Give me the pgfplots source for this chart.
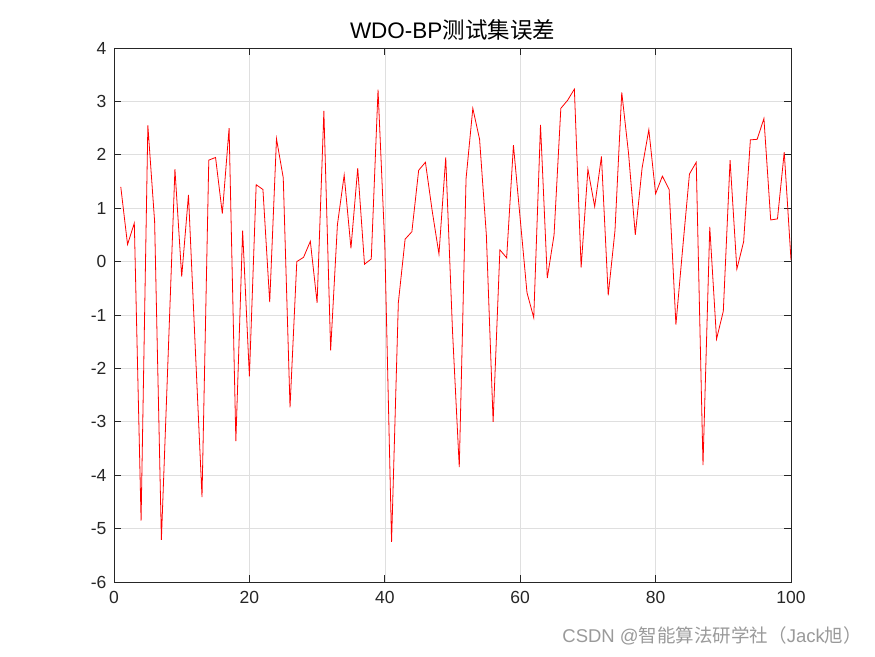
\documentclass[border=0pt]{standalone}
\usepackage{fontspec}
\setmainfont{Liberation Sans}
\newfontfamily\cjk{Noto Sans CJK SC}
\usepackage{pgfplots}
\pgfplotsset{compat=1.18}
\definecolor{axgray}{HTML}{262626}
\definecolor{gridgray}{HTML}{DFDFDF}
\definecolor{wmgray}{HTML}{9A9A9A}
\begin{document}
\begin{tikzpicture}[x=1pt,y=1pt]
\path[use as bounding box, fill=white] (0,0) rectangle (875,656);
\begin{axis}[at={(114pt,74pt)}, anchor=south west, scale only axis,
  width=677pt, height=534pt,
  xmin=0, xmax=100, ymin=-6, ymax=4,
  xtick={0,20,...,100}, ytick={-6,-5,...,4},
  grid=major, major grid style={gridgray, line width=0.6pt},
  tick align=inside, major tick length=7pt,
  axis line style={axgray, line width=0.8pt},
  tick style={axgray, line width=0.8pt},
  ticklabel style={font=\fontsize{17.5}{20}\selectfont, text=axgray},
  xticklabel style={yshift=-6pt},
  yticklabel style={xshift=-4pt},
  /pgf/number format/assume math mode=true,
  title={WDO-BP{\cjk 测试集误差}},
  title style={font=\fontsize{22.5}{25}\selectfont, text=black, at={(0.5,1)}, anchor=base, yshift=3pt},
]
\addplot[red, line width=0.8pt] coordinates {
(1,1.40) (2,0.32) (3,0.72) (4,-4.85) (5,2.55) (6,0.75) (7,-5.21) (8,-1.75) (9,1.73) (10,-0.28)
(11,1.25) (12,-1.60) (13,-4.41) (14,1.90) (15,1.95) (16,0.90) (17,2.50) (18,-3.36) (19,0.58) (20,-2.15)
(21,1.44) (22,1.35) (23,-0.76) (24,2.30) (25,1.57) (26,-2.73) (27,0.00) (28,0.08) (29,0.38) (30,-0.77)
(31,2.82) (32,-1.66) (33,0.69) (34,1.62) (35,0.25) (36,1.75) (37,-0.05) (38,0.05) (39,3.22) (40,0.30)
(41,-5.25) (42,-0.77) (43,0.42) (44,0.56) (45,1.71) (46,1.86) (47,0.95) (48,0.14) (49,1.95) (50,-1.30)
(51,-3.85) (52,1.55) (53,2.87) (54,2.29) (55,0.50) (56,-3.00) (57,0.22) (58,0.07) (59,2.18) (60,0.80)
(61,-0.58) (62,-1.05) (63,2.56) (64,-0.31) (65,0.50) (66,2.87) (67,3.02) (68,3.23) (69,-0.11) (70,1.73)
(71,1.03) (72,1.97) (73,-0.63) (74,0.58) (75,3.17) (76,2.03) (77,0.50) (78,1.75) (79,2.47) (80,1.27)
(81,1.60) (82,1.35) (83,-1.18) (84,0.25) (85,1.64) (86,1.86) (87,-3.81) (88,0.65) (89,-1.45) (90,-0.93)
(91,1.90) (92,-0.14) (93,0.37) (94,2.28) (95,2.29) (96,2.68) (97,0.78) (98,0.80) (99,2.05) (100,0.03)
};
\end{axis}
\node[anchor=east, text=wmgray, inner sep=0pt] at (862,20) {\fontsize{18.5}{20}\selectfont CSDN @{\cjk 智能算法研学社（}Jack{\cjk 旭）}};
\end{tikzpicture}
\end{document}
